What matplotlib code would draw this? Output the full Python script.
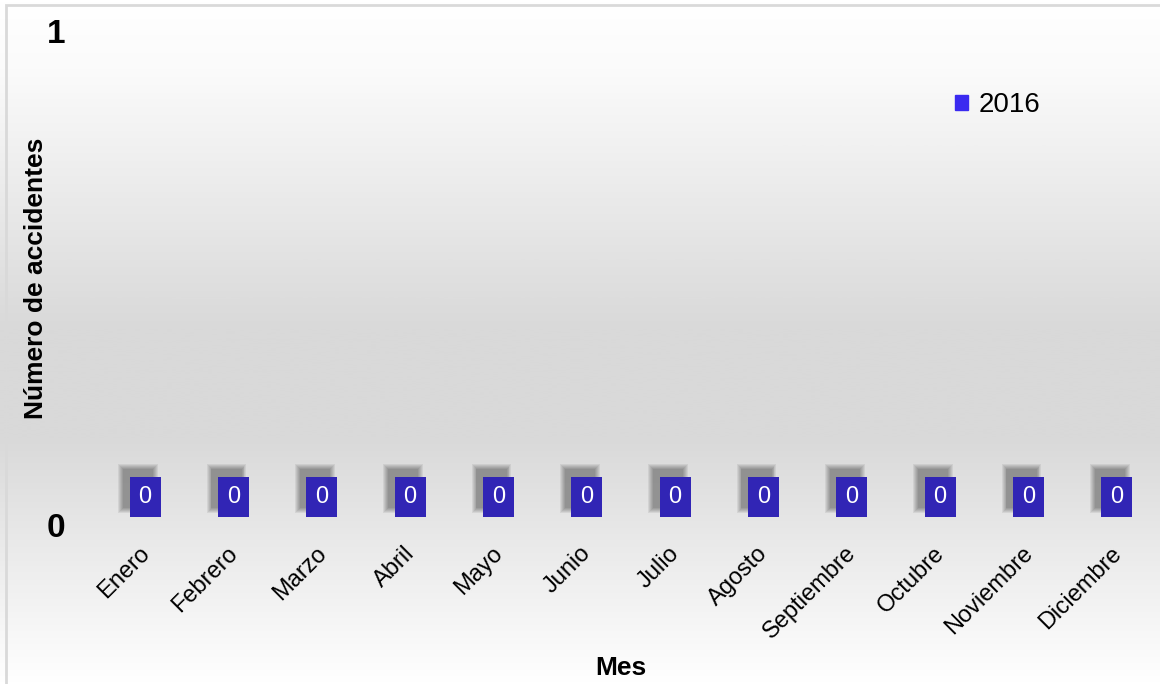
import numpy as np
import matplotlib
matplotlib.use("Agg")
import matplotlib.pyplot as plt
from matplotlib.colors import LinearSegmentedColormap
from matplotlib.patches import Rectangle
import matplotlib.transforms as mtransforms

plt.rcParams['font.family'] = ['Liberation Sans', 'DejaVu Sans']

months = ["Enero", "Febrero", "Marzo", "Abril", "Mayo", "Junio", "Julio",
          "Agosto", "Septiembre", "Octubre", "Noviembre", "Diciembre"]
values_2016 = [0, 0, 0, 0, 0, 0, 0, 0, 0, 0, 0, 0]
series_name = "2016"
y_ticks = [0, 1]

W, H = 1160, 684
fig = plt.figure(figsize=(W / 100, H / 100), dpi=100)

# background gradient
bg = fig.add_axes([0, 0, 1, 1], zorder=-10)
cmap = LinearSegmentedColormap.from_list(
    "bg", [(0.0, "#ffffff"), (0.1, "#fbfbfb"), (0.48, "#d9d9d9"),
           (0.64, "#d9d9d9"), (1.0, "#ffffff")])
grad = np.linspace(0, 1, 512).reshape(-1, 1)
bg.imshow(grad, aspect="auto", cmap=cmap, extent=[0, 1, 1, 0], interpolation="bilinear")
bg.set_xlim(0, 1)
bg.set_ylim(1, 0)
bg.axis("off")
# outer border (top and left visible)
bg.add_patch(Rectangle((6 / W, -1), 2, 2 - 5 / H, fill=False, edgecolor="#d9d9d9",
                       linewidth=2, transform=bg.transAxes, clip_on=False))

ax = fig.add_axes([101 / W, 1 - 525 / H, (1161 - 101) / W, (525 - 31) / H])
ax.patch.set_alpha(0)
x = np.arange(len(months))
bars = ax.bar(x, values_2016, width=0.6, color="#3A2AF0", label=series_name)
ax.set_xlim(-0.5, len(months) - 0.5)
ax.set_ylim(0, 1)
for s in ax.spines.values():
    s.set_visible(False)

ax.set_yticks(y_ticks)
ax.set_yticklabels([str(t) for t in y_ticks], fontsize=24, fontweight="bold")
ax.tick_params(axis="y", length=0, pad=26)
ax.set_xticks(x)
ax.set_xticklabels(months, rotation=45, ha="right", va="center",
                   rotation_mode="anchor", fontsize=17)
ax.tick_params(axis="x", length=0, pad=18)
shift = mtransforms.ScaledTranslation(1 / 100, 0, fig.dpi_scale_trans)
for lbl in ax.get_xticklabels():
    lbl.set_transform(lbl.get_transform() + shift)

ax.set_xlabel("Mes", fontsize=19, fontweight="bold")
ax.set_ylabel("Número de accidentes", fontsize=19, fontweight="bold")
ax.xaxis.set_label_coords(0.49, -0.265)
ax.yaxis.set_label_coords((48 - 101) / 1060, 0.5)

# data labels with soft shadowed boxes
for xi, v in zip(x, values_2016):
    for p in [0.56, 0.52, 0.48, 0.44, 0.40, 0.36]:
        ax.annotate(str(v), xy=(xi, v), xytext=(-5, 26.3), textcoords="offset points",
                    ha="center", va="center", fontsize=17, color=(0, 0, 0, 0),
                    bbox=dict(boxstyle=f"square,pad={p}", facecolor="black",
                              edgecolor="none", alpha=0.065))
    ax.annotate(str(v), xy=(xi, v), xytext=(0, 20.5), textcoords="offset points",
                ha="center", va="center", fontsize=17, color="white",
                bbox=dict(boxstyle="square,pad=0.38", facecolor="#3125B5",
                          edgecolor="none"))

leg = ax.legend(handles=[Rectangle((0, 0), 1, 1, color="#3A2AF0")], labels=[series_name],
                loc="upper left",
                bbox_to_anchor=((955 - 101) / (1161 - 101), 1 - (92 - 31) / (525 - 31)),
                frameon=False, fontsize=20, handlelength=0.45, handleheight=0.45,
                handletextpad=0.4, borderaxespad=0, borderpad=0)

fig.savefig("out.png", dpi=100)
